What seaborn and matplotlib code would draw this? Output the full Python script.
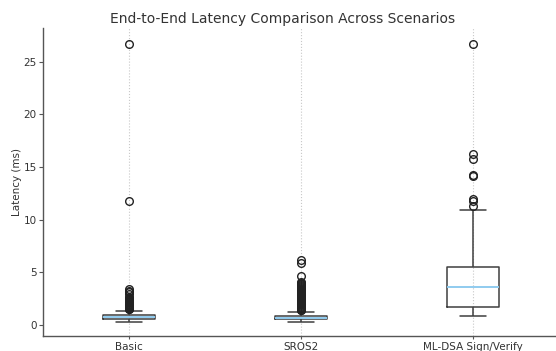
import numpy as np
import pandas as pd
import matplotlib
matplotlib.use("Agg")
import matplotlib.pyplot as plt
import seaborn as sns

# Scenario names shown on the x axis
scenarios = ["Basic", "SROS2", "ML-DSA Sign/Verify"]

# Bulk of each latency sample (ms) as a frequency table: value -> count
basic_values = [0.30, 0.45, 0.58, 0.72, 0.93, 1.10, 1.30]
basic_counts = [2, 20, 30, 50, 50, 20, 4]
basic_outliers = [1.50, 1.55, 1.60, 1.65, 1.70, 1.75, 1.80, 1.85, 1.90, 1.95,
                  2.00, 2.08, 2.15, 2.22, 2.30, 2.40, 2.50, 2.60, 2.70,
                  2.90, 3.10, 3.25, 3.45, 11.8, 26.7]

sros2_values = [0.29, 0.40, 0.52, 0.66, 0.85, 1.05, 1.24]
sros2_counts = [2, 36, 40, 60, 50, 10, 4]
sros2_outliers = [1.38, 1.45, 1.52, 1.58, 1.65, 1.72, 1.80, 1.88, 1.95, 2.02,
                  2.10, 2.18, 2.25, 2.33, 2.40, 2.48, 2.56, 2.64, 2.72, 2.80,
                  2.88, 2.96, 3.04, 3.12, 3.20, 3.28, 3.36, 3.45, 3.54, 3.62,
                  3.70, 3.78, 3.86, 3.95, 4.04, 4.69, 5.92, 6.18]

mldsa_values = [0.88, 1.20, 1.50, 1.74, 2.50, 3.00, 3.64, 4.20, 4.90, 5.50,
                6.50, 8.00, 9.50, 10.96]
mldsa_counts = [1, 10, 10, 10, 11, 10, 5, 12, 10, 5, 8, 5, 2, 1]
mldsa_outliers = [11.25, 11.8, 12.0, 14.1, 14.26, 15.75, 16.25, 26.7]


def sample(values, counts, extra):
    return list(np.repeat(values, counts)) + list(extra)


samples = {
    "Basic": sample(basic_values, basic_counts, basic_outliers),
    "SROS2": sample(sros2_values, sros2_counts, sros2_outliers),
    "ML-DSA Sign/Verify": sample(mldsa_values, mldsa_counts, mldsa_outliers),
}
df = pd.DataFrame(
    [(name, v) for name in scenarios for v in samples[name]],
    columns=["scenario", "latency"],
)

sns.set_style("ticks")
plt.rcParams["font.family"] = ["DejaVu Sans"]
text_color = "#333333"
spine_color = "#555555"

fig = plt.figure(figsize=(5.56, 3.51), dpi=100)
ax = fig.add_axes([43 / 556, 1 - 336 / 351, 1 - 43 / 556, (336 - 28) / 351])

sns.boxplot(
    data=df, x="scenario", y="latency", order=scenarios, ax=ax,
    width=0.3, fill=False, color="#3f3f3f", linewidth=1.1,
    medianprops={"color": "#8fcbef", "linewidth": 1.4},
    flierprops={"marker": "o", "markerfacecolor": "none",
                "markeredgecolor": "#222222", "markersize": 5.5,
                "markeredgewidth": 1.0},
)

ax.set_xlim(-0.5, 2.483)
ax.set_ylim(-1.05, 28.2)
ax.set_yticks([0, 5, 10, 15, 20, 25])
ax.xaxis.grid(True, linestyle=":", color="#c8c8c8", linewidth=0.8)
ax.yaxis.grid(False)
ax.set_axisbelow(True)

for side in ["top", "right"]:
    ax.spines[side].set_visible(False)
for side in ["left", "bottom"]:
    ax.spines[side].set_color(spine_color)
    ax.spines[side].set_linewidth(1.0)

ax.tick_params(axis="y", labelsize=7.5, colors=text_color, length=3,
               width=0.8, color=spine_color, pad=1.5)
ax.tick_params(axis="x", labelsize=7.5, colors=text_color, length=2,
               width=0.8, color=spine_color, pad=2)
ax.set_xlabel("")
ax.set_ylabel("Latency (ms)", fontsize=7.5, color=text_color, labelpad=1)
ax.set_title("End-to-End Latency Comparison Across Scenarios",
             fontsize=10, color=text_color, x=(282.5 - 43) / 513, pad=3.5)

fig.savefig("out.png", dpi=100)
